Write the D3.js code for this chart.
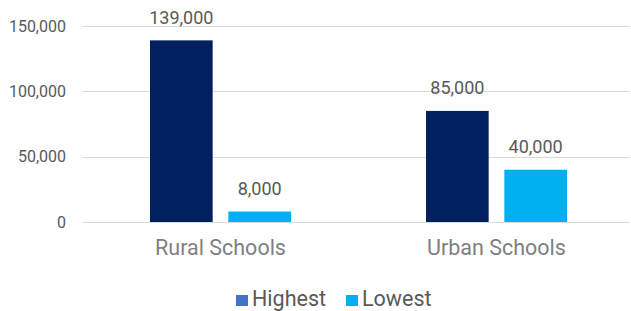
<!DOCTYPE html>
<html>
<head>
<meta charset="utf-8">
<script src="https://cdn.jsdelivr.net/npm/d3@7"></script>
<style>
  body { margin: 0; background: #fff; }
  text { font-family: Roboto, sans-serif; }
</style>
</head>
<body>
<svg id="chart" width="631" height="311"></svg>
<script>
const categories = ['Rural Schools', 'Urban Schools'];
const seriesNames = ['Highest', 'Lowest'];
const highest = [139000, 85000];
const lowest = [8000, 40000];
const yTicks = [0, 50000, 100000, 150000];

const barColors = ['#002060', '#00B0F0'];
const legendColors = ['#4472C4', '#00B0F0'];

const svg = d3.select('#chart');
const fmt = d3.format(',');

const rows = categories.map(function(c, i) {
  return { category: c, values: [highest[i], lowest[i]] };
});

const y = d3.scaleLinear().domain([0, 150000]).range([222, 26]);
const x0 = d3.scaleBand().domain(categories).range([82.5, 634.5]).paddingInner(0).paddingOuter(0);
const x1 = d3.scaleBand().domain(seriesNames).range([0, 141]).paddingInner(0.2);
const groupOffset = (x0.bandwidth() - 141) / 2;

// gridlines
svg.append('g')
  .selectAll('line')
  .data(yTicks)
  .enter()
  .append('line')
  .attr('x1', 82)
  .attr('x2', 630)
  .attr('y1', function(d) { return Math.round(y(d)) + 0.5; })
  .attr('y2', function(d) { return Math.round(y(d)) + 0.5; })
  .attr('stroke', '#d9d9d9')
  .attr('stroke-width', 1);

// y axis labels
const yAxis = d3.axisLeft(y).tickValues(yTicks).tickFormat(fmt).tickSize(0).tickPadding(0);
const ga = svg.append('g').attr('transform', 'translate(66,0)').call(yAxis);
ga.select('.domain').remove();
ga.selectAll('text')
  .attr('font-size', 16)
  .attr('font-family', 'Roboto, sans-serif')
  .attr('fill', '#595959');

// bars
const groups = svg.selectAll('g.group')
  .data(rows)
  .enter()
  .append('g')
  .attr('class', 'group')
  .attr('transform', function(d) { return 'translate(' + (x0(d.category) + groupOffset) + ',0)'; });

groups.selectAll('rect')
  .data(function(d) { return d.values.map(function(v, i) { return { key: seriesNames[i], value: v, i: i }; }); })
  .enter()
  .append('rect')
  .attr('x', function(d) { return x1(d.key); })
  .attr('width', x1.bandwidth())
  .attr('y', function(d) { return y(d.value); })
  .attr('height', function(d) { return y(0) - y(d.value); })
  .attr('fill', function(d) { return barColors[d.i]; });

groups.selectAll('text.val')
  .data(function(d) { return d.values.map(function(v, i) { return { key: seriesNames[i], value: v }; }); })
  .enter()
  .append('text')
  .attr('class', 'val')
  .attr('x', function(d) { return x1(d.key) + x1.bandwidth() / 2; })
  .attr('y', function(d) { return y(d.value) - 16.5; })
  .attr('text-anchor', 'middle')
  .attr('font-size', 18)
  .attr('fill', '#595959')
  .text(function(d) { return fmt(d.value); });

// x labels
svg.selectAll('text.cat')
  .data(categories)
  .enter()
  .append('text')
  .attr('class', 'cat')
  .attr('x', function(d) { return x0(d) + groupOffset + 70.5; })
  .attr('y', 255)
  .attr('text-anchor', 'middle')
  .attr('font-size', 21.5)
  .attr('fill', '#7f7f7f')
  .text(function(d) { return d; });

// legend
const legendX = [236, 346];
const lg = svg.selectAll('g.legend')
  .data(seriesNames)
  .enter()
  .append('g')
  .attr('class', 'legend')
  .attr('transform', function(d, i) { return 'translate(' + legendX[i] + ',0)'; });
lg.append('rect')
  .attr('x', 0)
  .attr('y', 295)
  .attr('width', 12)
  .attr('height', 11)
  .attr('fill', function(d, i) { return legendColors[i]; });
lg.append('text')
  .attr('x', 16)
  .attr('y', 306)
  .attr('font-size', 21.5)
  .attr('fill', '#595959')
  .text(function(d) { return d; });
</script>
</body>
</html>
